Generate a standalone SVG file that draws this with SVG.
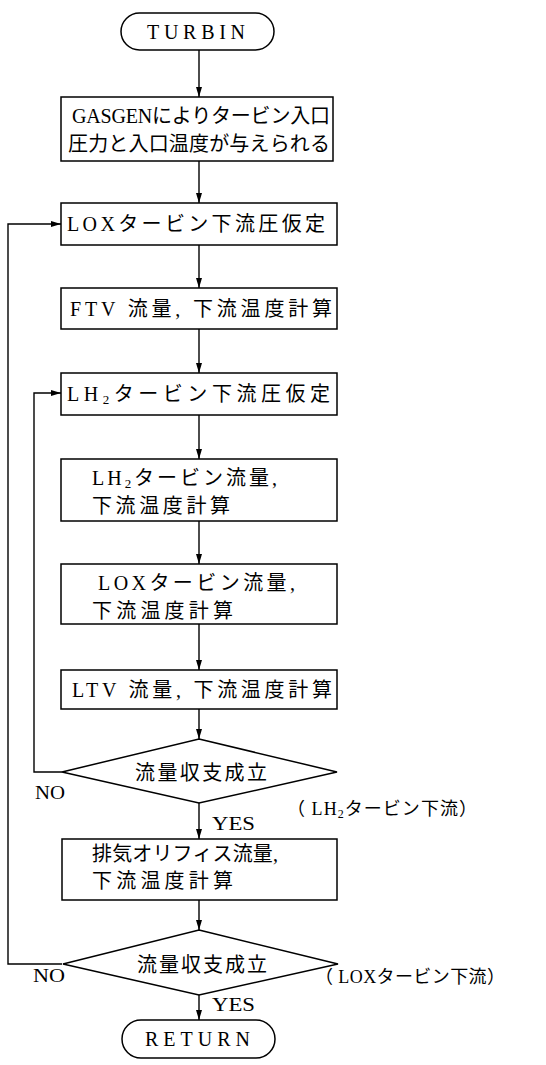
<svg xmlns="http://www.w3.org/2000/svg" width="546" height="1065" viewBox="0 0 546 1065">
<style>
.s{fill:#fff;stroke:#000;stroke-width:1.5}
.t{font-family:"Liberation Serif","Noto Sans CJK JP",serif;font-size:20px;fill:#000}
.l{font-family:"Liberation Serif","Noto Sans CJK JP",serif;font-size:18px;fill:#000}
.c{fill:none;stroke:#000;stroke-width:1.4}
</style>
<defs>
<marker id="a" viewBox="0 0 10 6" refX="10" refY="3" markerWidth="10" markerHeight="6" markerUnits="userSpaceOnUse" orient="auto">
<path d="M0,0 L10,3 L0,6 z" fill="#000"/>
</marker>
</defs>
<rect width="546" height="1065" fill="#fff"/>
<g id="connectors">
<line class="c" x1="199" y1="50" x2="199" y2="97" marker-end="url(#a)"/>
<line class="c" x1="199" y1="161" x2="199" y2="203" marker-end="url(#a)"/>
<line class="c" x1="199" y1="245" x2="199" y2="288" marker-end="url(#a)"/>
<line class="c" x1="199" y1="329" x2="199" y2="373" marker-end="url(#a)"/>
<line class="c" x1="199" y1="415" x2="199" y2="459" marker-end="url(#a)"/>
<line class="c" x1="199" y1="521" x2="199" y2="564" marker-end="url(#a)"/>
<line class="c" x1="199" y1="624" x2="199" y2="670" marker-end="url(#a)"/>
<line class="c" x1="199" y1="709" x2="199" y2="739" marker-end="url(#a)"/>
<line class="c" x1="199" y1="803" x2="199" y2="839" marker-end="url(#a)"/>
<line class="c" x1="199" y1="900" x2="199" y2="930" marker-end="url(#a)"/>
<line class="c" x1="199" y1="995" x2="199" y2="1020" marker-end="url(#a)"/>
<polyline class="c" points="62,772 34,772 34,393 61,393" marker-end="url(#a)"/>
<polyline class="c" points="62,964 8,964 8,224 61,224" marker-end="url(#a)"/>
<text class="l" x="35" y="799" textLength="30" lengthAdjust="spacingAndGlyphs">NO</text>
<text class="l" x="212" y="830" textLength="43" lengthAdjust="spacingAndGlyphs">YES</text>
<text class="l" x="287" y="815" textLength="190" lengthAdjust="spacing">（ LH<tspan font-size="12" dy="3">2</tspan><tspan dy="-3">タービン下流）</tspan></text>
<text class="l" x="33" y="982" textLength="32" lengthAdjust="spacingAndGlyphs">NO</text>
<text class="l" x="212" y="1011" textLength="43" lengthAdjust="spacingAndGlyphs">YES</text>
<text class="l" x="315" y="983" textLength="190" lengthAdjust="spacing">（ LOXタービン下流）</text>
</g>
<g id="turbin">
<rect class="s" x="121" y="13" width="153" height="37" rx="18.5" ry="18.5"/>
<text class="t" x="147" y="39" textLength="98" lengthAdjust="spacing">TURBIN</text>
</g>
<g id="gasgen">
<rect class="s" x="61" y="97" width="272" height="64"/>
<text class="t" x="72" y="123" textLength="258" lengthAdjust="spacing">GASGENによりタービン入口</text>
<text class="t" x="68" y="151" textLength="262" lengthAdjust="spacing">圧力と入口温度が与えられる</text>
</g>
<g id="lox-assume">
<rect class="s" x="61" y="203" width="276" height="42"/>
<text class="t" x="67" y="231" textLength="258" lengthAdjust="spacing">LOXタービン下流圧仮定</text>
</g>
<g id="ftv">
<rect class="s" x="61" y="288" width="276" height="41"/>
<text class="t" x="70" y="316" textLength="262" lengthAdjust="spacing">FTV 流量, 下流温度計算</text>
</g>
<g id="lh2-assume">
<rect class="s" x="61" y="373" width="276" height="42"/>
<text class="t" x="67" y="401" textLength="263" lengthAdjust="spacing">LH<tspan font-size="13" dy="3">2</tspan><tspan dy="-3">タービン下流圧仮定</tspan></text>
</g>
<g id="lh2-flow">
<rect class="s" x="61" y="459" width="276" height="62"/>
<text class="t" x="92" y="485" textLength="185" lengthAdjust="spacing">LH<tspan font-size="13" dy="3">2</tspan><tspan dy="-3">タービン流量,</tspan></text>
<text class="t" x="92" y="513" textLength="138" lengthAdjust="spacing">下流温度計算</text>
</g>
<g id="lox-flow">
<rect class="s" x="61" y="564" width="276" height="60"/>
<text class="t" x="98" y="590" textLength="197" lengthAdjust="spacing">LOXタービン流量,</text>
<text class="t" x="92" y="618" textLength="141" lengthAdjust="spacing">下流温度計算</text>
</g>
<g id="ltv">
<rect class="s" x="61" y="670" width="276" height="39"/>
<text class="t" x="72" y="697" textLength="260" lengthAdjust="spacing">LTV 流量, 下流温度計算</text>
</g>
<g id="check-lh2">
<polygon class="s" points="199,739 337,772 199,803 62,772"/>
<text class="t" x="135" y="780" textLength="132" lengthAdjust="spacing">流量収支成立</text>
</g>
<g id="exhaust">
<rect class="s" x="62" y="839" width="275" height="61"/>
<text class="t" x="92" y="861" textLength="186" lengthAdjust="spacing">排気オリフィス流量,</text>
<text class="t" x="92" y="888" textLength="141" lengthAdjust="spacing">下流温度計算</text>
</g>
<g id="check-lox">
<polygon class="s" points="199,930 338,964 199,995 63,964"/>
<text class="t" x="137" y="972" textLength="130" lengthAdjust="spacing">流量収支成立</text>
</g>
<g id="return">
<rect class="s" x="122" y="1020" width="153" height="38" rx="19" ry="19"/>
<text class="t" x="145" y="1046" textLength="105" lengthAdjust="spacing">RETURN</text>
</g>
</svg>
